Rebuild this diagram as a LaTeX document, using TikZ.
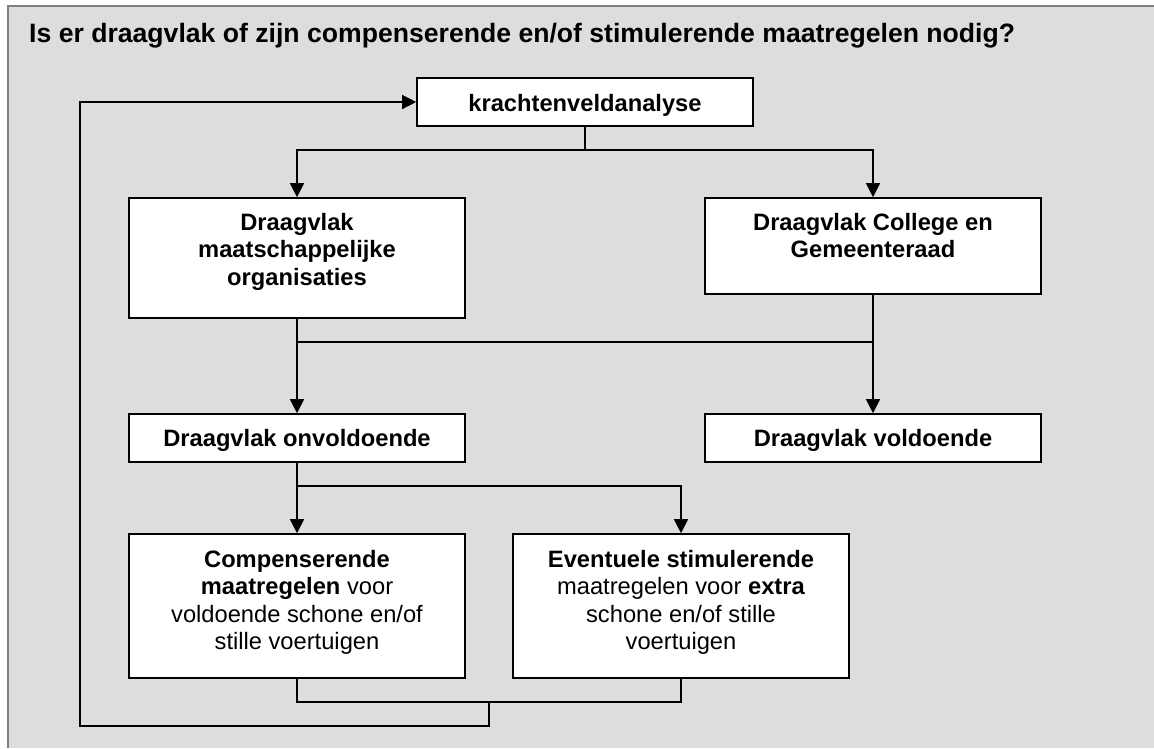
\documentclass[tikz,border=0pt]{standalone}
\usepackage{fontspec}
\setmainfont{Liberation Sans}
\usetikzlibrary{arrows.meta}
\definecolor{panel}{RGB}{221,221,221}
\definecolor{rim}{RGB}{128,128,128}

% box body: fixed height, 336pt wide, text hung from the top by a strut
\newcommand{\boxtext}[3]{\parbox[c][#1][t]{336pt}{\centering\rule{0pt}{#2}#3}}

\begin{document}
\begin{tikzpicture}[x=1pt,y=-1pt,
  stepbox/.style={draw=black, line width=1.6pt, fill=white, inner sep=0pt,
    font=\fontsize{23.7}{27.5}\selectfont},
  link/.style={line width=1.3pt, line join=miter},
  flow/.style={link, -{Triangle[length=14pt,width=14pt]}}]

\useasboundingbox (0,0) rectangle (1154,748);

% panel background with its top and left rim
\fill[panel] (8,5.7) rectangle (1154,748);
\draw[rim, line width=2pt] (8,748) -- (8,5.7) -- (1154,5.7);

% heading
\node[font=\fontsize{26.6}{30}\selectfont\bfseries, anchor=base west, inner sep=0pt]
  (title) at (29,42) {Is er draagvlak of zijn compenserende en/of stimulerende maatregelen nodig?};

% boxes
\node[stepbox] (kv) at (585,102) {\boxtext{48pt}{33pt}{\bfseries krachtenveldanalyse}};
\node[stepbox] (mo) at (297,258) {\boxtext{120pt}{32pt}{\bfseries Draagvlak\\maatschappelijke\\organisaties}};
\node[stepbox] (cg) at (873,246) {\boxtext{96pt}{32pt}{\bfseries Draagvlak College en\\Gemeenteraad}};
\node[stepbox] (on) at (297,438) {\boxtext{48pt}{32pt}{\bfseries Draagvlak onvoldoende}};
\node[stepbox] (vo) at (873,438) {\boxtext{48pt}{32pt}{\bfseries Draagvlak voldoende}};
\node[stepbox] (cm) at (297,606) {\boxtext{144pt}{33pt}{\textbf{Compenserende}\\\textbf{maatregelen} voor\\voldoende schone en/of\\stille voertuigen}};
\node[stepbox] (ev) at (681,606) {\boxtext{144pt}{33pt}{\textbf{Eventuele stimulerende}\\maatregelen voor \textbf{extra}\\schone en/of stille\\voertuigen}};

% junction points
\coordinate (s1) at (585,150);
\coordinate (j1) at (297,342);
\coordinate (j2) at (873,342);
\coordinate (s2) at (297,486);
\coordinate (j3) at (489,702);
\coordinate (fb) at (80,726);

% analysis splits into both support boxes
\draw[link] (kv.south) -- (s1);
\draw[flow] (s1) -| (mo.north);
\draw[flow] (s1) -| (cg.north);

% both support boxes lead to the two outcomes
\draw[flow] (mo.south) -- (on.north);
\draw[flow] (cg.south) -- (vo.north);
\draw[link] (j1) -- (j2);

% insufficient support leads to the two kinds of measures
\draw[flow] (on.south) -- (cm.north);
\draw[flow] (s2) -| (ev.north);

% measures feed back into the analysis
\draw[link] (cm.south) |- (j3) -| (ev.south);
\draw[flow] (j3) |- (fb) |- (kv.west);
\end{tikzpicture}
\end{document}
